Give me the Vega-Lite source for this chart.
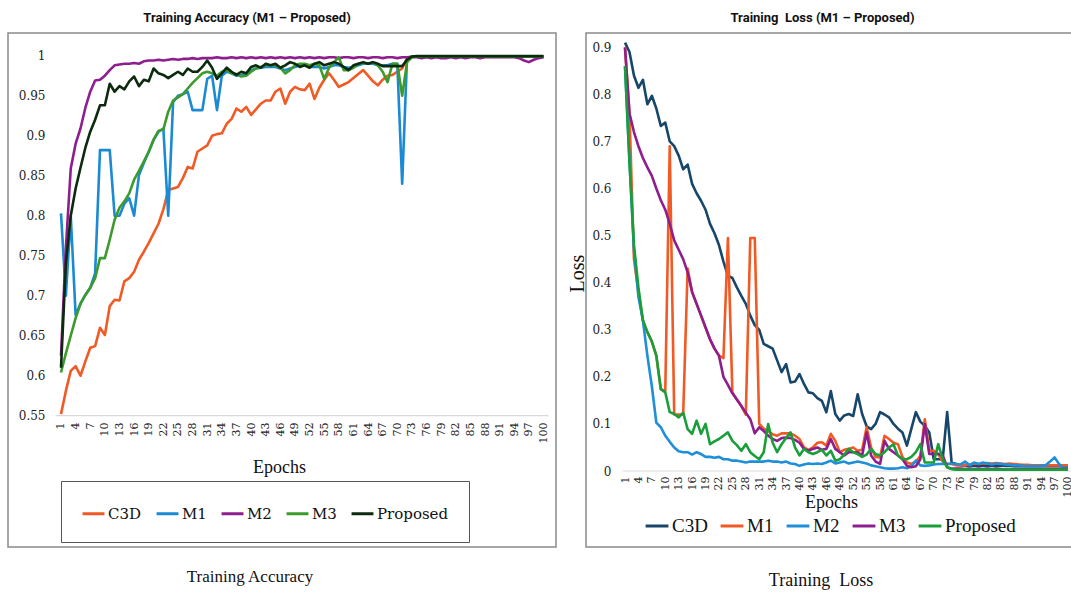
{
"$schema": "https://vega.github.io/schema/vega-lite/v6.json",
"background": "white",
"padding": {"left": 7, "top": 11, "right": 0, "bottom": 0},
"bounds": "flush",
"spacing": 30,
"config": {
  "view": {"stroke": "#8a8a8a", "strokeWidth": 1.5},
  "axis": {"grid": false, "ticks": false, "tickSize": 0, "domain": false, "labelColor": "#222222", "titleColor": "#111111", "titleFontWeight": "normal", "labelOverlap": false},
  "legend": {"labelColor": "#111111"}
},
"resolve": {"scale": {"x": "independent", "y": "independent", "color": "independent"}, "legend": {"color": "independent"}},
"datasets": {
"acc": [
{"e":1,"C3D":0.552,"M1":0.803,"M2":0.625,"M3":0.604,"Proposed":0.610},
{"e":2,"C3D":0.581,"M1":0.700,"M2":0.760,"M3":0.628,"Proposed":0.740},
{"e":3,"C3D":0.606,"M1":0.800,"M2":0.859,"M3":0.650,"Proposed":0.800},
{"e":4,"C3D":0.612,"M1":0.676,"M2":0.890,"M3":0.672,"Proposed":0.834},
{"e":5,"C3D":0.600,"M1":0.690,"M2":0.909,"M3":0.690,"Proposed":0.860},
{"e":6,"C3D":0.618,"M1":0.701,"M2":0.935,"M3":0.701,"Proposed":0.885},
{"e":7,"C3D":0.635,"M1":0.710,"M2":0.955,"M3":0.710,"Proposed":0.905},
{"e":8,"C3D":0.637,"M1":0.728,"M2":0.969,"M3":0.722,"Proposed":0.920},
{"e":9,"C3D":0.660,"M1":0.882,"M2":0.970,"M3":0.747,"Proposed":0.938},
{"e":10,"C3D":0.651,"M1":0.882,"M2":0.975,"M3":0.747,"Proposed":0.938},
{"e":11,"C3D":0.687,"M1":0.882,"M2":0.982,"M3":0.770,"Proposed":0.965},
{"e":12,"C3D":0.695,"M1":0.800,"M2":0.988,"M3":0.795,"Proposed":0.955},
{"e":13,"C3D":0.694,"M1":0.800,"M2":0.989,"M3":0.810,"Proposed":0.962},
{"e":14,"C3D":0.718,"M1":0.815,"M2":0.990,"M3":0.818,"Proposed":0.958},
{"e":15,"C3D":0.722,"M1":0.822,"M2":0.990,"M3":0.828,"Proposed":0.968},
{"e":16,"C3D":0.730,"M1":0.800,"M2":0.991,"M3":0.845,"Proposed":0.974},
{"e":17,"C3D":0.745,"M1":0.851,"M2":0.990,"M3":0.856,"Proposed":0.962},
{"e":18,"C3D":0.755,"M1":0.866,"M2":0.993,"M3":0.868,"Proposed":0.970},
{"e":19,"C3D":0.766,"M1":0.880,"M2":0.994,"M3":0.880,"Proposed":0.968},
{"e":20,"C3D":0.778,"M1":0.895,"M2":0.994,"M3":0.895,"Proposed":0.984},
{"e":21,"C3D":0.790,"M1":0.905,"M2":0.995,"M3":0.906,"Proposed":0.978},
{"e":22,"C3D":0.808,"M1":0.909,"M2":0.994,"M3":0.908,"Proposed":0.976},
{"e":23,"C3D":0.832,"M1":0.800,"M2":0.995,"M3":0.930,"Proposed":0.972},
{"e":24,"C3D":0.834,"M1":0.942,"M2":0.996,"M3":0.944,"Proposed":0.976},
{"e":25,"C3D":0.836,"M1":0.950,"M2":0.995,"M3":0.948,"Proposed":0.980},
{"e":26,"C3D":0.847,"M1":0.952,"M2":0.996,"M3":0.952,"Proposed":0.976},
{"e":27,"C3D":0.861,"M1":0.955,"M2":0.996,"M3":0.959,"Proposed":0.984},
{"e":28,"C3D":0.859,"M1":0.932,"M2":0.997,"M3":0.966,"Proposed":0.980},
{"e":29,"C3D":0.880,"M1":0.932,"M2":0.996,"M3":0.972,"Proposed":0.980},
{"e":30,"C3D":0.884,"M1":0.932,"M2":0.997,"M3":0.978,"Proposed":0.986},
{"e":31,"C3D":0.888,"M1":0.971,"M2":0.997,"M3":0.980,"Proposed":0.994},
{"e":32,"C3D":0.900,"M1":0.975,"M2":0.997,"M3":0.978,"Proposed":0.985},
{"e":33,"C3D":0.902,"M1":0.932,"M2":0.998,"M3":0.975,"Proposed":0.971},
{"e":34,"C3D":0.903,"M1":0.975,"M2":0.997,"M3":0.980,"Proposed":0.978},
{"e":35,"C3D":0.915,"M1":0.980,"M2":0.997,"M3":0.982,"Proposed":0.985},
{"e":36,"C3D":0.921,"M1":0.978,"M2":0.998,"M3":0.978,"Proposed":0.980},
{"e":37,"C3D":0.934,"M1":0.975,"M2":0.997,"M3":0.977,"Proposed":0.976},
{"e":38,"C3D":0.930,"M1":0.976,"M2":0.998,"M3":0.974,"Proposed":0.980},
{"e":39,"C3D":0.936,"M1":0.978,"M2":0.997,"M3":0.975,"Proposed":0.978},
{"e":40,"C3D":0.926,"M1":0.982,"M2":0.998,"M3":0.980,"Proposed":0.986},
{"e":41,"C3D":0.933,"M1":0.984,"M2":0.997,"M3":0.984,"Proposed":0.988},
{"e":42,"C3D":0.940,"M1":0.985,"M2":0.998,"M3":0.986,"Proposed":0.985},
{"e":43,"C3D":0.944,"M1":0.986,"M2":0.997,"M3":0.988,"Proposed":0.990},
{"e":44,"C3D":0.944,"M1":0.986,"M2":0.998,"M3":0.988,"Proposed":0.988},
{"e":45,"C3D":0.955,"M1":0.986,"M2":0.997,"M3":0.988,"Proposed":0.990},
{"e":46,"C3D":0.959,"M1":0.984,"M2":0.998,"M3":0.985,"Proposed":0.985},
{"e":47,"C3D":0.940,"M1":0.982,"M2":0.997,"M3":0.978,"Proposed":0.988},
{"e":48,"C3D":0.955,"M1":0.984,"M2":0.998,"M3":0.982,"Proposed":0.992},
{"e":49,"C3D":0.961,"M1":0.986,"M2":0.997,"M3":0.988,"Proposed":0.990},
{"e":50,"C3D":0.958,"M1":0.988,"M2":0.998,"M3":0.990,"Proposed":0.986},
{"e":51,"C3D":0.957,"M1":0.988,"M2":0.997,"M3":0.990,"Proposed":0.988},
{"e":52,"C3D":0.965,"M1":0.986,"M2":0.998,"M3":0.988,"Proposed":0.985},
{"e":53,"C3D":0.946,"M1":0.986,"M2":0.997,"M3":0.990,"Proposed":0.990},
{"e":54,"C3D":0.960,"M1":0.986,"M2":0.998,"M3":0.988,"Proposed":0.992},
{"e":55,"C3D":0.970,"M1":0.984,"M2":0.997,"M3":0.971,"Proposed":0.988},
{"e":56,"C3D":0.978,"M1":0.986,"M2":0.998,"M3":0.985,"Proposed":0.990},
{"e":57,"C3D":0.970,"M1":0.988,"M2":0.998,"M3":0.992,"Proposed":0.992},
{"e":58,"C3D":0.961,"M1":0.988,"M2":0.997,"M3":0.998,"Proposed":0.990},
{"e":59,"C3D":0.964,"M1":0.986,"M2":0.998,"M3":0.982,"Proposed":0.986},
{"e":60,"C3D":0.967,"M1":0.985,"M2":0.998,"M3":0.982,"Proposed":0.982},
{"e":61,"C3D":0.972,"M1":0.986,"M2":0.997,"M3":0.985,"Proposed":0.988},
{"e":62,"C3D":0.977,"M1":0.988,"M2":0.998,"M3":0.990,"Proposed":0.990},
{"e":63,"C3D":0.982,"M1":0.990,"M2":0.998,"M3":0.991,"Proposed":0.992},
{"e":64,"C3D":0.975,"M1":0.990,"M2":0.997,"M3":0.990,"Proposed":0.990},
{"e":65,"C3D":0.968,"M1":0.990,"M2":0.998,"M3":0.992,"Proposed":0.992},
{"e":66,"C3D":0.963,"M1":0.988,"M2":0.998,"M3":0.988,"Proposed":0.990},
{"e":67,"C3D":0.970,"M1":0.988,"M2":0.997,"M3":0.980,"Proposed":0.987},
{"e":68,"C3D":0.975,"M1":0.988,"M2":0.998,"M3":0.967,"Proposed":0.987},
{"e":69,"C3D":0.976,"M1":0.990,"M2":0.998,"M3":0.990,"Proposed":0.987},
{"e":70,"C3D":0.980,"M1":0.990,"M2":0.997,"M3":0.990,"Proposed":0.987},
{"e":71,"C3D":0.984,"M1":0.840,"M2":0.998,"M3":0.950,"Proposed":0.987},
{"e":72,"C3D":0.997,"M1":0.998,"M2":0.998,"M3":0.992,"Proposed":0.995},
{"e":73,"C3D":0.999,"M1":0.999,"M2":0.998,"M3":0.998,"Proposed":0.999},
{"e":74,"C3D":0.999,"M1":0.999,"M2":0.998,"M3":0.999,"Proposed":0.9995},
{"e":75,"C3D":0.999,"M1":0.999,"M2":0.997,"M3":0.999,"Proposed":0.9995},
{"e":76,"C3D":0.999,"M1":0.999,"M2":0.998,"M3":0.999,"Proposed":0.9995},
{"e":77,"C3D":0.999,"M1":0.999,"M2":0.997,"M3":0.999,"Proposed":0.9995},
{"e":78,"C3D":0.999,"M1":0.999,"M2":0.998,"M3":0.999,"Proposed":0.9995},
{"e":79,"C3D":0.999,"M1":0.999,"M2":0.997,"M3":0.999,"Proposed":0.9995},
{"e":80,"C3D":0.999,"M1":0.999,"M2":0.997,"M3":0.999,"Proposed":0.9995},
{"e":81,"C3D":0.999,"M1":0.999,"M2":0.998,"M3":0.999,"Proposed":0.9995},
{"e":82,"C3D":0.999,"M1":0.999,"M2":0.997,"M3":0.999,"Proposed":0.9995},
{"e":83,"C3D":0.999,"M1":0.999,"M2":0.998,"M3":0.999,"Proposed":0.9995},
{"e":84,"C3D":0.999,"M1":0.999,"M2":0.997,"M3":0.999,"Proposed":0.9995},
{"e":85,"C3D":0.999,"M1":0.999,"M2":0.998,"M3":0.999,"Proposed":0.9995},
{"e":86,"C3D":0.999,"M1":0.999,"M2":0.998,"M3":0.999,"Proposed":0.9995},
{"e":87,"C3D":0.999,"M1":0.999,"M2":0.997,"M3":0.999,"Proposed":0.9995},
{"e":88,"C3D":0.999,"M1":0.999,"M2":0.998,"M3":0.999,"Proposed":0.9995},
{"e":89,"C3D":0.999,"M1":0.999,"M2":0.998,"M3":0.999,"Proposed":0.9995},
{"e":90,"C3D":0.999,"M1":0.999,"M2":0.998,"M3":0.999,"Proposed":0.9995},
{"e":91,"C3D":0.999,"M1":0.999,"M2":0.998,"M3":0.999,"Proposed":0.9995},
{"e":92,"C3D":0.999,"M1":0.999,"M2":0.998,"M3":0.999,"Proposed":0.9995},
{"e":93,"C3D":0.999,"M1":0.999,"M2":0.998,"M3":0.999,"Proposed":0.9995},
{"e":94,"C3D":0.999,"M1":0.999,"M2":0.998,"M3":0.999,"Proposed":0.9995},
{"e":95,"C3D":0.999,"M1":0.999,"M2":0.997,"M3":0.999,"Proposed":0.9995},
{"e":96,"C3D":0.999,"M1":0.999,"M2":0.994,"M3":0.999,"Proposed":0.9995},
{"e":97,"C3D":0.999,"M1":0.999,"M2":0.992,"M3":0.999,"Proposed":0.9995},
{"e":98,"C3D":0.999,"M1":0.999,"M2":0.995,"M3":0.999,"Proposed":0.9995},
{"e":99,"C3D":0.999,"M1":0.999,"M2":0.997,"M3":0.999,"Proposed":0.9995},
{"e":100,"C3D":0.999,"M1":0.999,"M2":0.998,"M3":0.999,"Proposed":0.9995}
],
"loss": [
{"e":1,"C3D":0.910,"M1":0.900,"M2":0.860,"M3":0.900,"Proposed":0.860},
{"e":2,"C3D":0.890,"M1":0.760,"M2":0.660,"M3":0.760,"Proposed":0.655},
{"e":3,"C3D":0.840,"M1":0.450,"M2":0.470,"M3":0.720,"Proposed":0.480},
{"e":4,"C3D":0.814,"M1":0.380,"M2":0.370,"M3":0.690,"Proposed":0.390},
{"e":5,"C3D":0.831,"M1":0.320,"M2":0.320,"M3":0.665,"Proposed":0.320},
{"e":6,"C3D":0.779,"M1":0.295,"M2":0.245,"M3":0.645,"Proposed":0.295},
{"e":7,"C3D":0.797,"M1":0.275,"M2":0.180,"M3":0.627,"Proposed":0.275},
{"e":8,"C3D":0.770,"M1":0.245,"M2":0.103,"M3":0.600,"Proposed":0.245},
{"e":9,"C3D":0.733,"M1":0.174,"M2":0.093,"M3":0.575,"Proposed":0.174},
{"e":10,"C3D":0.740,"M1":0.170,"M2":0.075,"M3":0.555,"Proposed":0.167},
{"e":11,"C3D":0.700,"M1":0.690,"M2":0.062,"M3":0.525,"Proposed":0.125},
{"e":12,"C3D":0.690,"M1":0.120,"M2":0.050,"M3":0.490,"Proposed":0.121},
{"e":13,"C3D":0.670,"M1":0.120,"M2":0.042,"M3":0.470,"Proposed":0.114},
{"e":14,"C3D":0.641,"M1":0.120,"M2":0.040,"M3":0.450,"Proposed":0.124},
{"e":15,"C3D":0.651,"M1":0.430,"M2":0.040,"M3":0.422,"Proposed":0.089},
{"e":16,"C3D":0.610,"M1":0.380,"M2":0.035,"M3":0.380,"Proposed":0.079},
{"e":17,"C3D":0.590,"M1":0.355,"M2":0.040,"M3":0.355,"Proposed":0.107},
{"e":18,"C3D":0.574,"M1":0.330,"M2":0.036,"M3":0.330,"Proposed":0.079},
{"e":19,"C3D":0.555,"M1":0.305,"M2":0.030,"M3":0.305,"Proposed":0.100},
{"e":20,"C3D":0.525,"M1":0.280,"M2":0.030,"M3":0.280,"Proposed":0.057},
{"e":21,"C3D":0.505,"M1":0.260,"M2":0.028,"M3":0.260,"Proposed":0.063},
{"e":22,"C3D":0.480,"M1":0.245,"M2":0.030,"M3":0.245,"Proposed":0.068},
{"e":23,"C3D":0.445,"M1":0.240,"M2":0.025,"M3":0.200,"Proposed":0.075},
{"e":24,"C3D":0.415,"M1":0.495,"M2":0.025,"M3":0.183,"Proposed":0.082},
{"e":25,"C3D":0.410,"M1":0.167,"M2":0.022,"M3":0.165,"Proposed":0.064},
{"e":26,"C3D":0.390,"M1":0.152,"M2":0.022,"M3":0.152,"Proposed":0.055},
{"e":27,"C3D":0.372,"M1":0.138,"M2":0.020,"M3":0.138,"Proposed":0.043},
{"e":28,"C3D":0.355,"M1":0.120,"M2":0.018,"M3":0.124,"Proposed":0.057},
{"e":29,"C3D":0.330,"M1":0.495,"M2":0.020,"M3":0.110,"Proposed":0.040},
{"e":30,"C3D":0.310,"M1":0.495,"M2":0.020,"M3":0.080,"Proposed":0.032},
{"e":31,"C3D":0.300,"M1":0.100,"M2":0.020,"M3":0.093,"Proposed":0.025},
{"e":32,"C3D":0.270,"M1":0.090,"M2":0.020,"M3":0.085,"Proposed":0.040},
{"e":33,"C3D":0.265,"M1":0.085,"M2":0.022,"M3":0.075,"Proposed":0.100},
{"e":34,"C3D":0.260,"M1":0.078,"M2":0.020,"M3":0.068,"Proposed":0.060},
{"e":35,"C3D":0.235,"M1":0.075,"M2":0.020,"M3":0.064,"Proposed":0.040},
{"e":36,"C3D":0.210,"M1":0.080,"M2":0.018,"M3":0.070,"Proposed":0.057},
{"e":37,"C3D":0.227,"M1":0.080,"M2":0.020,"M3":0.071,"Proposed":0.070},
{"e":38,"C3D":0.188,"M1":0.080,"M2":0.016,"M3":0.070,"Proposed":0.082},
{"e":39,"C3D":0.190,"M1":0.075,"M2":0.015,"M3":0.066,"Proposed":0.050},
{"e":40,"C3D":0.206,"M1":0.068,"M2":0.011,"M3":0.060,"Proposed":0.033},
{"e":41,"C3D":0.185,"M1":0.050,"M2":0.014,"M3":0.047,"Proposed":0.047},
{"e":42,"C3D":0.167,"M1":0.045,"M2":0.016,"M3":0.043,"Proposed":0.040},
{"e":43,"C3D":0.165,"M1":0.050,"M2":0.015,"M3":0.047,"Proposed":0.036},
{"e":44,"C3D":0.155,"M1":0.060,"M2":0.016,"M3":0.050,"Proposed":0.040},
{"e":45,"C3D":0.149,"M1":0.061,"M2":0.015,"M3":0.045,"Proposed":0.045},
{"e":46,"C3D":0.125,"M1":0.054,"M2":0.018,"M3":0.047,"Proposed":0.033},
{"e":47,"C3D":0.170,"M1":0.079,"M2":0.022,"M3":0.068,"Proposed":0.043},
{"e":48,"C3D":0.121,"M1":0.064,"M2":0.016,"M3":0.047,"Proposed":0.022},
{"e":49,"C3D":0.107,"M1":0.040,"M2":0.018,"M3":0.040,"Proposed":0.025},
{"e":50,"C3D":0.118,"M1":0.045,"M2":0.020,"M3":0.033,"Proposed":0.035},
{"e":51,"C3D":0.121,"M1":0.047,"M2":0.016,"M3":0.040,"Proposed":0.047},
{"e":52,"C3D":0.117,"M1":0.050,"M2":0.018,"M3":0.040,"Proposed":0.040},
{"e":53,"C3D":0.163,"M1":0.043,"M2":0.020,"M3":0.040,"Proposed":0.036},
{"e":54,"C3D":0.121,"M1":0.045,"M2":0.018,"M3":0.033,"Proposed":0.030},
{"e":55,"C3D":0.095,"M1":0.093,"M2":0.016,"M3":0.082,"Proposed":0.035},
{"e":56,"C3D":0.089,"M1":0.050,"M2":0.012,"M3":0.033,"Proposed":0.047},
{"e":57,"C3D":0.100,"M1":0.030,"M2":0.010,"M3":0.020,"Proposed":0.036},
{"e":58,"C3D":0.125,"M1":0.029,"M2":0.008,"M3":0.015,"Proposed":0.033},
{"e":59,"C3D":0.120,"M1":0.075,"M2":0.006,"M3":0.064,"Proposed":0.040},
{"e":60,"C3D":0.114,"M1":0.068,"M2":0.005,"M3":0.047,"Proposed":0.050},
{"e":61,"C3D":0.100,"M1":0.060,"M2":0.005,"M3":0.040,"Proposed":0.057},
{"e":62,"C3D":0.090,"M1":0.057,"M2":0.006,"M3":0.033,"Proposed":0.033},
{"e":63,"C3D":0.082,"M1":0.030,"M2":0.008,"M3":0.025,"Proposed":0.025},
{"e":64,"C3D":0.054,"M1":0.018,"M2":0.006,"M3":0.011,"Proposed":0.025},
{"e":65,"C3D":0.090,"M1":0.015,"M2":0.010,"M3":0.008,"Proposed":0.030},
{"e":66,"C3D":0.125,"M1":0.020,"M2":0.022,"M3":0.010,"Proposed":0.040},
{"e":67,"C3D":0.105,"M1":0.032,"M2":0.012,"M3":0.025,"Proposed":0.057},
{"e":68,"C3D":0.096,"M1":0.110,"M2":0.011,"M3":0.100,"Proposed":0.018},
{"e":69,"C3D":0.082,"M1":0.043,"M2":0.012,"M3":0.036,"Proposed":0.018},
{"e":70,"C3D":0.025,"M1":0.043,"M2":0.014,"M3":0.036,"Proposed":0.018},
{"e":71,"C3D":0.025,"M1":0.036,"M2":0.015,"M3":0.036,"Proposed":0.057},
{"e":72,"C3D":0.025,"M1":0.020,"M2":0.015,"M3":0.033,"Proposed":0.025},
{"e":73,"C3D":0.125,"M1":0.015,"M2":0.015,"M3":0.008,"Proposed":0.008},
{"e":74,"C3D":0.018,"M1":0.015,"M2":0.016,"M3":0.005,"Proposed":0.004},
{"e":75,"C3D":0.015,"M1":0.012,"M2":0.015,"M3":0.005,"Proposed":0.003},
{"e":76,"C3D":0.012,"M1":0.012,"M2":0.014,"M3":0.005,"Proposed":0.003},
{"e":77,"C3D":0.012,"M1":0.013,"M2":0.020,"M3":0.004,"Proposed":0.003},
{"e":78,"C3D":0.011,"M1":0.014,"M2":0.012,"M3":0.005,"Proposed":0.003},
{"e":79,"C3D":0.012,"M1":0.016,"M2":0.018,"M3":0.004,"Proposed":0.003},
{"e":80,"C3D":0.011,"M1":0.015,"M2":0.015,"M3":0.005,"Proposed":0.003},
{"e":81,"C3D":0.012,"M1":0.016,"M2":0.018,"M3":0.004,"Proposed":0.003},
{"e":82,"C3D":0.011,"M1":0.017,"M2":0.016,"M3":0.005,"Proposed":0.003},
{"e":83,"C3D":0.012,"M1":0.016,"M2":0.014,"M3":0.004,"Proposed":0.003},
{"e":84,"C3D":0.011,"M1":0.017,"M2":0.016,"M3":0.005,"Proposed":0.003},
{"e":85,"C3D":0.012,"M1":0.016,"M2":0.015,"M3":0.004,"Proposed":0.003},
{"e":86,"C3D":0.011,"M1":0.015,"M2":0.014,"M3":0.003,"Proposed":0.003},
{"e":87,"C3D":0.011,"M1":0.016,"M2":0.013,"M3":0.003,"Proposed":0.003},
{"e":88,"C3D":0.010,"M1":0.015,"M2":0.012,"M3":0.004,"Proposed":0.003},
{"e":89,"C3D":0.010,"M1":0.014,"M2":0.012,"M3":0.004,"Proposed":0.003},
{"e":90,"C3D":0.010,"M1":0.013,"M2":0.011,"M3":0.004,"Proposed":0.003},
{"e":91,"C3D":0.010,"M1":0.013,"M2":0.010,"M3":0.004,"Proposed":0.003},
{"e":92,"C3D":0.010,"M1":0.012,"M2":0.011,"M3":0.004,"Proposed":0.003},
{"e":93,"C3D":0.010,"M1":0.012,"M2":0.010,"M3":0.004,"Proposed":0.003},
{"e":94,"C3D":0.010,"M1":0.012,"M2":0.011,"M3":0.004,"Proposed":0.003},
{"e":95,"C3D":0.010,"M1":0.012,"M2":0.012,"M3":0.004,"Proposed":0.003},
{"e":96,"C3D":0.010,"M1":0.012,"M2":0.020,"M3":0.004,"Proposed":0.003},
{"e":97,"C3D":0.010,"M1":0.012,"M2":0.029,"M3":0.004,"Proposed":0.003},
{"e":98,"C3D":0.010,"M1":0.012,"M2":0.015,"M3":0.004,"Proposed":0.003},
{"e":99,"C3D":0.010,"M1":0.012,"M2":0.005,"M3":0.004,"Proposed":0.003},
{"e":100,"C3D":0.010,"M1":0.012,"M2":0.008,"M3":0.004,"Proposed":0.003}
]
},
"hconcat": [
{
  "width": 548, "height": 514,
  "title": {"text": "Training Accuracy (M1 – Proposed)", "font": "Liberation Sans Narrow, Roboto, sans-serif", "fontWeight": "bold", "fontSize": 13, "offset": 8, "dx": -35, "anchor": "middle", "color": "#111111"},
  "layer": [
    {
      "data": {"values": [{}]},
      "mark": {"type": "rule", "color": "#d9d9d9", "strokeWidth": 1.2},
      "encoding": {"x": {"datum": 0, "type": "quantitative"}, "x2": {"datum": 101}, "y": {"datum": 0.55, "type": "quantitative"}}
    },
    {
      "data": {"name": "acc"},
      "transform": [{"fold": ["C3D", "M1", "M2", "M3", "Proposed"], "as": ["model", "value"]}],
      "mark": {"type": "line", "strokeWidth": 2.6, "strokeJoin": "round"},
      "encoding": {
        "x": {"field": "e", "type": "quantitative",
          "scale": {"domain": [-9.874, 102.56], "nice": false, "zero": false},
          "axis": {"values": [1,4,7,10,13,16,19,22,25,28,31,34,37,40,43,46,49,52,55,58,61,64,67,70,73,76,79,82,85,88,91,94,97,100], "tickCount": 200,
            "format": "d", "labelAngle": 270, "labelFont": "DejaVu Serif", "labelFontSize": 11, "labelPadding": 6, "labelOverlap": false, "labelFlush": false, "labelBound": false,
            "offset": -131, "title": "Epochs", "titleFont": "Liberation Serif", "titleFontSize": 18, "titleX": 271, "titleY": 56, "titleAlign": "center", "titleBaseline": "alphabetic"}},
        "y": {"field": "value", "type": "quantitative",
          "scale": {"domain": [0.3859, 1.0284], "nice": false, "zero": false},
          "axis": {"values": [0.55,0.6,0.65,0.7,0.75,0.8,0.85,0.9,0.95,1], "tickCount": 50, "format": "~g", "labelFont": "DejaVu Serif", "labelFontSize": 12, "labelPadding": 3, "offset": -40, "title": null}},
        "color": {"field": "model", "type": "nominal",
          "scale": {"domain": ["C3D", "M1", "M2", "M3", "Proposed"], "range": ["#F15A24", "#1B8AD3", "#8E1E8E", "#3C9B2C", "#0C2A0E"]},
          "legend": {"orient": "none", "legendX": 53, "legendY": 448, "direction": "horizontal", "columns": 5, "title": null,
            "symbolType": "stroke", "symbolStrokeWidth": 3, "symbolSize": 480, "labelFont": "DejaVu Serif", "labelFontSize": 15, "labelOffset": 2,
            "columnPadding": 8, "padding": 20, "strokeColor": "#555555", "fillColor": "white"}}
      }
    },
    {
      "data": {"values": [{}]},
      "mark": {"type": "text", "font": "Liberation Serif", "fontSize": 17, "baseline": "middle", "align": "center", "color": "#111111"},
      "encoding": {"x": {"datum": 39.78, "type": "quantitative"}, "y": {"datum": 0.3484, "type": "quantitative"}, "text": {"value": "Training Accuracy"}}
    }
  ]
},
{
  "width": 495, "height": 514,
  "title": {"text": "Training \u00a0Loss (M1 – Proposed)", "font": "Liberation Sans Narrow, Roboto, sans-serif", "fontWeight": "bold", "fontSize": 13, "offset": 8, "dx": -11, "anchor": "middle", "color": "#111111"},
  "layer": [
    {
      "data": {"values": [{}]},
      "mark": {"type": "rule", "color": "#d9d9d9", "strokeWidth": 1.2},
      "encoding": {"x": {"datum": 0.5, "type": "quantitative"}, "x2": {"datum": 102}, "y": {"datum": 0, "type": "quantitative"}}
    },
    {
      "data": {"name": "loss"},
      "transform": [{"fold": ["C3D", "M1", "M2", "M3", "Proposed"], "as": ["model", "value"]}],
      "mark": {"type": "line", "strokeWidth": 2.6, "strokeJoin": "round"},
      "encoding": {
        "x": {"field": "e", "type": "quantitative",
          "scale": {"domain": [-7.716, 102.91], "nice": false, "zero": false},
          "axis": {"values": [1,4,7,10,13,16,19,22,25,28,31,34,37,40,43,46,49,52,55,58,61,64,67,70,73,76,79,82,85,88,91,94,97,100], "tickCount": 200,
            "format": "d", "labelAngle": 270, "labelFont": "DejaVu Serif", "labelFontSize": 11, "labelPadding": 5, "labelOverlap": false, "labelFlush": false, "labelBound": false,
            "offset": -76, "title": "Epochs", "titleFont": "Liberation Serif", "titleFontSize": 18, "titleX": 245, "titleY": 36, "titleAlign": "center", "titleBaseline": "alphabetic"}},
        "y": {"field": "value", "type": "quantitative",
          "scale": {"domain": [-0.1614, 0.9304], "nice": false, "zero": false},
          "axis": {"values": [0,0.1,0.2,0.3,0.4,0.5,0.6,0.7,0.8,0.9], "tickCount": 50, "format": "~g", "labelFont": "DejaVu Serif", "labelFontSize": 12, "labelPadding": 3, "offset": -28,
            "title": "Loss", "titleFont": "Liberation Serif", "titleFontSize": 20, "titleAngle": 270, "titleX": -37, "titleY": 240, "titleAlign": "center", "titleBaseline": "middle"}},
        "color": {"field": "model", "type": "nominal",
          "scale": {"domain": ["C3D", "M1", "M2", "M3", "Proposed"], "range": ["#16476A", "#F15A24", "#1F8FD8", "#8E1E8E", "#1A9E3A"]},
          "legend": {"orient": "none", "legendX": 58, "legendY": 480, "direction": "horizontal", "columns": 5, "title": null,
            "symbolType": "stroke", "symbolStrokeWidth": 3, "symbolSize": 520, "labelFont": "Liberation Serif", "labelFontSize": 19, "labelOffset": 2,
            "columnPadding": 6, "padding": 0}}
      }
    },
    {
      "data": {"values": [{}]},
      "mark": {"type": "text", "font": "Liberation Serif", "fontSize": 18, "baseline": "middle", "align": "center", "color": "#111111"},
      "encoding": {"x": {"datum": 44.8, "type": "quantitative"}, "y": {"datum": -0.2336, "type": "quantitative"}, "text": {"value": "Training \u00a0Loss"}}
    }
  ]
}
]
}
